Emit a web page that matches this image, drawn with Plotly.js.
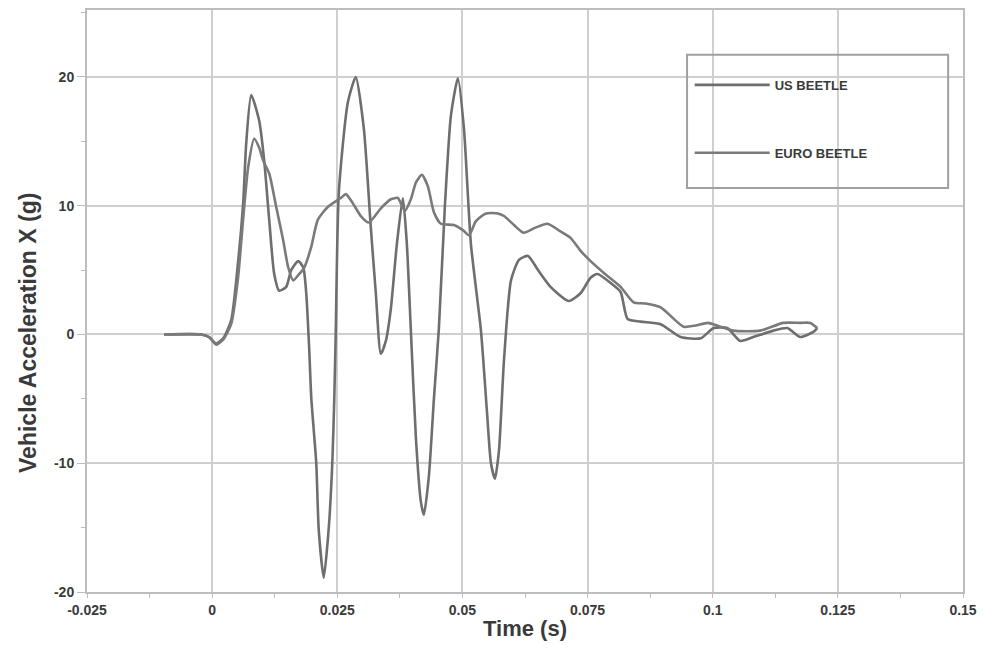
<!DOCTYPE html>
<html>
<head>
<meta charset="utf-8">
<script src="https://cdn.plot.ly/plotly-3.0.1.min.js"></script>
<style>
  html, body { margin: 0; padding: 0; background: #ffffff; }
  #chart { width: 985px; height: 649px; }
</style>
</head>
<body>
<div id="chart"></div>
<script>
// ---- data ----
const usTime = [-0.0096, -0.0022, -0.0006, 0.0008, 0.0022, 0.0038, 0.0052, 0.0062, 0.0068, 0.0078,
  0.0094, 0.0104, 0.0114, 0.0124, 0.0134, 0.0148, 0.0158, 0.0172, 0.0182, 0.0188,
  0.0194, 0.0198, 0.0208, 0.0213, 0.0223, 0.0233, 0.0240, 0.0244, 0.0247, 0.0253,
  0.0271, 0.0287, 0.0303, 0.0317, 0.0327, 0.0337, 0.0347, 0.0357, 0.0369, 0.0381,
  0.0389, 0.0397, 0.0407, 0.0417, 0.0423, 0.0433, 0.0443, 0.0453, 0.0465, 0.0477,
  0.0491, 0.0503, 0.0517, 0.0537, 0.0549, 0.0557, 0.0565, 0.0573, 0.0583, 0.0597,
  0.0613, 0.0631, 0.0651, 0.0676, 0.0712, 0.0736, 0.0756, 0.0770, 0.0796, 0.0816,
  0.0830, 0.0856, 0.0896, 0.0936, 0.0976, 0.1002, 0.1029, 0.1055, 0.1081, 0.1121,
  0.1149, 0.1175, 0.1201, 0.1209];
const usAccel = [0, 0, -0.2, -0.7, -0.3, 1.1, 5.7, 10.2, 14.8, 18.6,
  16.6, 13.5, 8.9, 4.7, 3.4, 3.7, 5.0, 5.7, 5.2, 3.2,
  -1.2, -4.9, -10, -15.2, -18.9, -15, -10, -5, 0.3, 11,
  18, 20, 16, 8.3, 3.2, -1.5, -0.5, 2, 7, 10.6,
  7, 0.3, -8, -13, -14, -11, -5, 0.5, 10, 17,
  19.9, 16, 7, 0.3, -6, -10, -11.2, -9, -2, 4.2,
  5.8, 6.1, 5.0, 3.7, 2.6, 3.2, 4.4, 4.7, 4.0, 3.3,
  1.2, 1.0, 0.8, -0.2, -0.3, 0.5, 0.5, -0.5, -0.2, 0.3,
  0.5, -0.2, 0.2, 0.5];

const euroTime = [-0.0096, -0.0022, -0.0006, 0.0008, 0.0022, 0.0038, 0.0052, 0.0062, 0.0072, 0.0084,
  0.0094, 0.0102, 0.0114, 0.0128, 0.0142, 0.0152, 0.0162, 0.0174, 0.0184, 0.0198,
  0.0211, 0.0231, 0.0257, 0.0267, 0.0281, 0.0297, 0.0313, 0.0337, 0.0357, 0.0371,
  0.0385, 0.0397, 0.0407, 0.0419, 0.0431, 0.0443, 0.0457, 0.0483, 0.0501, 0.0513,
  0.0527, 0.0547, 0.0571, 0.0583, 0.0603, 0.0622, 0.0646, 0.0670, 0.0696, 0.0716,
  0.0736, 0.0756, 0.0782, 0.0816, 0.0842, 0.0866, 0.0896, 0.0942, 0.0966, 0.0990,
  0.1016, 0.1041, 0.1095, 0.1141, 0.1175, 0.1195, 0.1209];
const euroAccel = [0, 0, -0.2, -0.8, -0.4, 0.8, 4.5, 9, 13, 15.2,
  14.5, 13.5, 12.5, 9.9, 7.3, 5.2, 4.2, 4.7, 5.2, 6.8,
  8.9, 9.9, 10.6, 10.9, 10.2, 9.2, 8.7, 9.8, 10.5, 10.6,
  9.6, 10.5, 11.8, 12.4, 11.5, 9.5, 8.6, 8.5, 8.1, 7.7,
  8.8, 9.4, 9.4, 9.2, 8.5, 7.9, 8.3, 8.6, 8.0, 7.5,
  6.5, 5.7, 4.8, 3.7, 2.5, 2.4, 2.1, 0.6, 0.7, 0.9,
  0.6, 0.3, 0.3, 0.9, 0.9, 0.9, 0.5];

const seriesNames = ['US BEETLE', 'EURO BEETLE'];
const xTickVals = [-0.025, 0, 0.025, 0.05, 0.075, 0.1, 0.125, 0.15];
const xTickText = ['-0.025', '0', '0.025', '0.05', '0.075', '0.1', '0.125', '0.15'];
const yTickVals = [-20, -10, 0, 10, 20];
const yTickText = ['-20', '-10', '0', '10', '20'];
const xTitle = 'Time (s)';
const yTitle = 'Vehicle Acceleration X (g)';

const FONT = 'Liberation Sans, Arial, sans-serif';
const TXT = '#3a3a3a';

const traces = [
  { x: usTime, y: usAccel, name: seriesNames[0], legendgroup: 'g1', type: 'scatter', mode: 'lines',
    line: { color: '#6e6e6e', width: 2.6, shape: 'spline', smoothing: 0.6 } },
  { x: euroTime, y: euroAccel, name: seriesNames[1], legendgroup: 'g2', type: 'scatter', mode: 'lines',
    line: { color: '#7a7a7a', width: 2.6, shape: 'spline', smoothing: 0.6 } }
];

const layout = {
  width: 985, height: 649,
  paper_bgcolor: '#ffffff', plot_bgcolor: '#ffffff',
  margin: { l: 87, r: 22, t: 10, b: 57 },
  showlegend: true,
  font: { family: FONT, color: TXT },
  xaxis: {
    range: [-0.025, 0.15],
    tickvals: xTickVals, ticktext: xTickText,
    showgrid: true, gridcolor: '#cfcfcf', gridwidth: 2,
    zeroline: false,
    showline: true, linecolor: '#bdbdbd', linewidth: 2, mirror: true,
    ticks: 'outside', ticklen: 4, tickcolor: '#bdbdbd', tickwidth: 1,
    minor: { dtick: 0.0125, tick0: 0, ticks: 'outside', ticklen: 4, tickcolor: '#bdbdbd', showgrid: false },
    tickfont: { family: FONT, size: 14, color: TXT, weight: 'bold' },
    title: { text: xTitle, font: { family: FONT, size: 22, color: TXT, weight: 'bold' }, standoff: 4 }
  },
  yaxis: {
    range: [-20, 25.2],
    tickvals: yTickVals, ticktext: yTickText,
    showgrid: true, gridcolor: '#cfcfcf', gridwidth: 2,
    zeroline: false,
    showline: true, linecolor: '#bdbdbd', linewidth: 2, mirror: true,
    ticks: 'outside', ticklen: 8, tickcolor: '#bdbdbd', tickwidth: 1,
    minor: { dtick: 5, tick0: 0, ticks: 'outside', ticklen: 4, tickcolor: '#bdbdbd', showgrid: false },
    tickfont: { family: FONT, size: 14, color: TXT, weight: 'bold' }
  },
  annotations: [
    { text: yTitle, xref: 'paper', yref: 'paper', x: -0.0674, y: 0.445,
      xanchor: 'center', yanchor: 'middle', textangle: -90, showarrow: false,
      font: { family: FONT, size: 23, color: TXT, weight: 'bold' } }
  ],
  legend: {
    x: 0.688, y: 0.897, xanchor: 'left', yanchor: 'top',
    bgcolor: 'rgba(0,0,0,0)', borderwidth: 0,
    font: { family: FONT, size: 13, color: TXT, weight: 'bold' },
    itemwidth: 75, tracegroupgap: 48, traceorder: 'grouped'
  },
  shapes: [
    { type: 'rect', xref: 'paper', yref: 'paper', x0: 0.685, x1: 0.983, y0: 0.694, y1: 0.923,
      line: { color: '#a0a0a0', width: 2 }, fillcolor: 'rgba(0,0,0,0)' }
  ]
};

Plotly.newPlot('chart', traces, layout, { displayModeBar: false, staticPlot: true });
</script>
</body>
</html>
